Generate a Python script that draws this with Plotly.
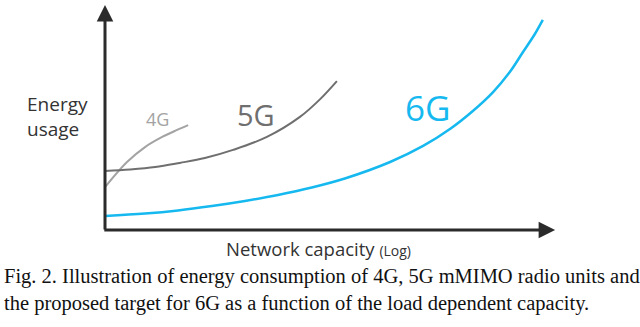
import plotly.graph_objects as go

# curves (capacity on x, energy on y, arbitrary units 0-10)
cap_4g = [0, 0.50, 0.91, 1.30, 1.64, 1.89]
energy_4g = [1.95, 3.09, 3.77, 4.23, 4.55, 4.77]

cap_5g = [0, 0.57, 1.14, 1.70, 2.27, 2.91, 3.68, 4.43, 4.89, 5.27]
energy_5g = [2.68, 2.75, 2.86, 3.05, 3.27, 3.64, 4.23, 5.14, 5.95, 6.77]

cap_6g = [0, 0.91, 1.66, 2.43, 3.18, 3.93, 4.70, 5.45, 6.48, 7.23, 7.84, 8.36, 8.82, 9.20, 9.50, 9.77, 9.95]
energy_6g = [0.64, 0.75, 0.89, 1.09, 1.32, 1.59, 1.93, 2.34, 3.09, 3.82, 4.59, 5.41, 6.27, 7.18, 8.09, 8.91, 9.55]

labels = ["4G", "5G", "6G"]
axis_x_title = "Network capacity"
axis_y_title = "Energy<br>usage"
caption = ("Fig. 2. Illustration of energy consumption of 4G, 5G mMIMO radio units and<br>"
           "the proposed target for 6G as a function of the load dependent capacity.")

C4 = "#a3a3a3"
C5 = "#6f6f6f"
C6 = "#16b9ef"
AX = "#2b2b2b"
SANS = "Open Sans, Noto Sans, sans-serif"

fig = go.Figure()
fig.add_trace(go.Scatter(x=cap_4g, y=energy_4g, mode="lines", line=dict(color=C4, width=2, shape="spline"), hoverinfo="skip"))
fig.add_trace(go.Scatter(x=cap_5g, y=energy_5g, mode="lines", line=dict(color=C5, width=2, shape="spline"), hoverinfo="skip"))
fig.add_trace(go.Scatter(x=cap_6g, y=energy_6g, mode="lines", line=dict(color=C6, width=2.5, shape="spline"), hoverinfo="skip"))

# axes drawn as arrows
fig.add_annotation(x=10.23, y=0, ax=-0.05, ay=0, axref="x", ayref="y", xref="x", yref="y",
                   text="", showarrow=True, arrowhead=2, arrowsize=1.1, arrowwidth=3, arrowcolor=AX)
fig.add_annotation(x=0, y=10.23, ax=0, ay=-0.05, axref="x", ayref="y", xref="x", yref="y",
                   text="", showarrow=True, arrowhead=2, arrowsize=1.1, arrowwidth=3, arrowcolor=AX)

fig.add_annotation(x=1.20, y=5.05, text=labels[0], showarrow=False, font=dict(family=SANS, size=18, color=C4))
fig.add_annotation(x=3.43, y=5.27, text=labels[1], showarrow=False, font=dict(family=SANS, size=29, color=C5))
fig.add_annotation(x=7.32, y=5.55, text=labels[2], showarrow=False, font=dict(family=SANS, size=35, color=C6))

fig.add_annotation(x=-1.07, y=5.14, text=axis_y_title, showarrow=False, align="left",
                   font=dict(family=SANS, size=19, color="#333333"))
fig.add_annotation(x=4.85, y=-0.86, showarrow=False,
                   text=axis_x_title + " <span style='font-size:14px'>(Log)</span>",
                   font=dict(family=SANS, size=18.5, color="#333333"))

fig.add_annotation(x=0.003, y=0.113, xref="paper", yref="paper", xanchor="left", yanchor="middle",
                   text=caption, showarrow=False, align="left",
                   font=dict(family="Liberation Serif, Times New Roman, serif", size=20.5, color="#111111"))

fig.update_layout(
    width=640, height=327,
    margin=dict(l=0, r=0, t=0, b=0),
    paper_bgcolor="white", plot_bgcolor="white",
    showlegend=False,
    xaxis=dict(range=[-105 / 44, 535 / 44], visible=False, fixedrange=True),
    yaxis=dict(range=[-97 / 22, 230 / 22], visible=False, fixedrange=True),
)

fig.write_html("out.html", config={"displayModeBar": False},
               post_script="document.body.style.margin='0';")
